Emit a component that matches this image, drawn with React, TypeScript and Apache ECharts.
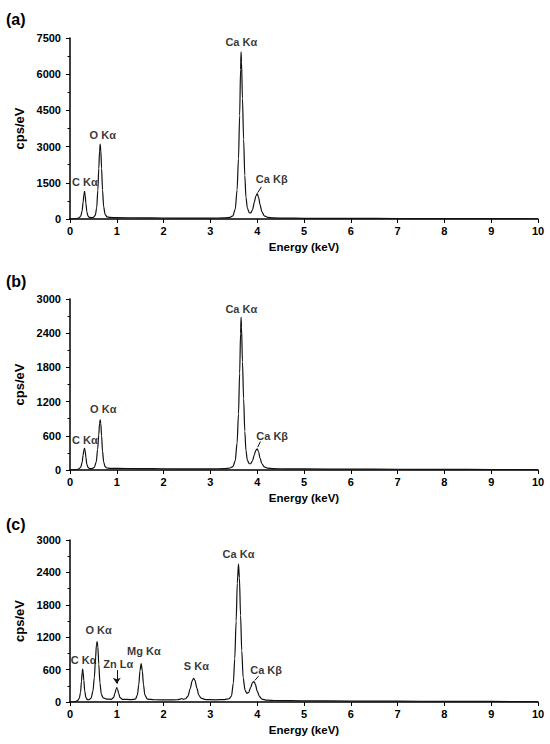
import React, { useEffect, useRef } from "react";
import * as echarts from "echarts";

// ---- Data (energy keV, cps/eV) ----
const spectrumA: number[][] = [
  [0, 0], [0.08, 2], [0.14, 15], [0.19, 45], [0.23, 120], [0.26, 350], [0.28, 700], [0.297, 1000], [0.31, 1150],
  [0.323, 1000], [0.34, 650], [0.36, 300], [0.385, 120], [0.42, 65], [0.46, 55], [0.5, 70], [0.54, 150],
  [0.57, 450], [0.595, 1200], [0.615, 2100], [0.632, 2800], [0.645, 3100], [0.658, 2850], [0.675, 2100],
  [0.695, 1200], [0.72, 500], [0.75, 190], [0.79, 90], [0.85, 65], [1.0, 55], [1.5, 48], [2.0, 42], [2.5, 38],
  [3.0, 38], [3.3, 45], [3.42, 70], [3.48, 130], [3.53, 400], [3.57, 1200], [3.6, 2500], [3.625, 4300],
  [3.645, 6200], [3.655, 6930], [3.665, 6500], [3.685, 5000], [3.71, 3300], [3.735, 1800], [3.76, 900],
  [3.79, 450], [3.83, 260], [3.86, 250], [3.9, 380], [3.94, 700], [3.97, 950], [4.0, 1050], [4.03, 900],
  [4.06, 600], [4.1, 300], [4.15, 130], [4.22, 70], [4.35, 45], [4.6, 35], [5, 30], [6, 24], [7, 20], [8, 16],
  [9, 13], [10, 10],
];
const spectrumB: number[][] = [
  [0, 0], [0.08, 2], [0.14, 8], [0.19, 20], [0.23, 50], [0.26, 140], [0.28, 260], [0.297, 350], [0.31, 380],
  [0.323, 340], [0.34, 220], [0.36, 100], [0.385, 45], [0.42, 25], [0.47, 25], [0.52, 45], [0.56, 140],
  [0.59, 360], [0.615, 620], [0.632, 820], [0.645, 880], [0.658, 820], [0.675, 600], [0.695, 330], [0.72, 140],
  [0.75, 60], [0.79, 35], [0.85, 30], [1.0, 28], [1.5, 25], [2.0, 22], [2.5, 20], [3.0, 20], [3.3, 24],
  [3.42, 35], [3.48, 60], [3.53, 160], [3.57, 470], [3.6, 980], [3.625, 1700], [3.645, 2400], [3.655, 2680],
  [3.665, 2500], [3.685, 1900], [3.71, 1250], [3.735, 680], [3.76, 340], [3.79, 170], [3.83, 110], [3.86, 110],
  [3.9, 160], [3.94, 270], [3.97, 345], [4.0, 370], [4.03, 320], [4.06, 210], [4.1, 110], [4.15, 55],
  [4.22, 32], [4.35, 24], [4.6, 20], [5, 18], [6, 15], [7, 13], [8, 11], [9, 9], [10, 8],
];
const spectrumC: number[][] = [
  [0, 0], [0.07, 2], [0.12, 8], [0.16, 25], [0.2, 70], [0.225, 180], [0.245, 380], [0.26, 550], [0.27, 610],
  [0.28, 560], [0.295, 400], [0.315, 200], [0.34, 80], [0.37, 45], [0.41, 42], [0.45, 70], [0.49, 200],
  [0.52, 450], [0.545, 800], [0.565, 1060], [0.58, 1120], [0.595, 1020], [0.615, 700], [0.64, 350],
  [0.67, 140], [0.71, 75], [0.78, 55], [0.88, 50], [0.93, 80], [0.96, 160], [0.985, 240], [1.0, 265],
  [1.015, 240], [1.04, 160], [1.07, 80], [1.12, 50], [1.3, 45], [1.4, 55], [1.44, 130], [1.47, 320],
  [1.495, 580], [1.52, 710], [1.545, 580], [1.57, 320], [1.6, 130], [1.65, 55], [1.8, 42], [2.1, 40],
  [2.3, 42], [2.36, 55], [2.39, 65], [2.42, 50], [2.47, 60], [2.52, 110], [2.57, 250], [2.61, 390],
  [2.64, 440], [2.67, 400], [2.71, 260], [2.75, 130], [2.8, 70], [2.9, 45], [3.1, 40], [3.3, 45], [3.4, 60],
  [3.45, 110], [3.49, 350], [3.52, 800], [3.55, 1500], [3.575, 2200], [3.6, 2560], [3.62, 2300],
  [3.645, 1600], [3.67, 950], [3.7, 450], [3.74, 220], [3.78, 160], [3.82, 180], [3.86, 270], [3.9, 360],
  [3.93, 380], [3.96, 330], [4.0, 200], [4.05, 100], [4.1, 55], [4.2, 35], [4.4, 28], [5, 22], [6, 18],
  [7, 15], [8, 12], [9, 10], [10, 8],
];

// peak annotations: [x, y, text] (label centre)
const peaksA: [number, number, string][] = [
  [0.32, 1540, "C Kα"], [0.7, 3500, "O Kα"], [3.66, 7350, "Ca Kα"], [4.31, 1640, "Ca Kβ"],
];
const peaksB: [number, number, string][] = [
  [0.32, 530, "C Kα"], [0.71, 1070, "O Kα"], [3.66, 2830, "Ca Kα"], [4.32, 600, "Ca Kβ"],
];
const peaksC: [number, number, string][] = [
  [0.29, 780, "C Kα"], [0.61, 1330, "O Kα"], [1.03, 700, "Zn Lα"], [1.58, 950, "Mg Kα"],
  [2.7, 670, "S Kα"], [3.6, 2735, "Ca Kα"], [4.19, 595, "Ca Kβ"],
];
// leader lines: [x1, y1, x2, y2]
const leaderA: number[][] = [[4.09, 1330, 4.01, 1090]];
const leaderB: number[][] = [[4.07, 500, 4.01, 400]];
const leaderC: number[][] = [[4.03, 480, 3.95, 400]];
const arrowC: number[][] = [[1.0, 590, 1.0, 340]];

const yMaxes = [7500, 3000, 3000];
const yIntervals = [1500, 600, 600];
const panelNames = ["(a)", "(b)", "(c)"];

const FONT = "'Liberation Sans', Arial, sans-serif";

export default function App() {
  const ref = useRef<HTMLDivElement>(null);
  useEffect(() => {
    if (!ref.current) return;
    const chart = echarts.init(ref.current, null, { renderer: "svg" });
    const grids = [
      { left: 70, top: 38, width: 468, height: 181 },
      { left: 70, top: 299, width: 468, height: 171 },
      { left: 70, top: 540, width: 468, height: 162 },
    ];
    const spectra = [spectrumA, spectrumB, spectrumC];
    const peaks = [peaksA, peaksB, peaksC];
    const leaders = [leaderA, leaderB, leaderC];
    const titleTops = [11, 273, 516];

    const xAxes = grids.map((_, i) => ({
      type: "value",
      gridIndex: i,
      min: 0,
      max: 10,
      interval: 1,
      axisLine: { show: true, lineStyle: { color: "#000", width: 1.5 } },
      axisTick: { show: true, inside: false, length: 4, lineStyle: { color: "#000", width: 1 } },
      splitLine: { show: false },
      axisLabel: { color: "#000", fontWeight: "bold", fontSize: 11, fontFamily: FONT, margin: 6 },
      name: "Energy (keV)",
      nameLocation: "middle",
      nameGap: 22,
      nameTextStyle: { color: "#000", fontWeight: "bold", fontSize: 11.5, fontFamily: FONT },
    }));
    const yAxes = grids.map((_, i) => ({
      type: "value",
      gridIndex: i,
      min: 0,
      max: yMaxes[i],
      interval: yIntervals[i],
      axisLine: { show: true, lineStyle: { color: "#000", width: 1.5 } },
      axisTick: { show: true, inside: false, length: 4, lineStyle: { color: "#000", width: 1 } },
      minorTick: { show: true, splitNumber: 2, length: 2.5, lineStyle: { color: "#000", width: 1 } },
      splitLine: { show: false },
      axisLabel: {
        color: "#000",
        fontWeight: "bold",
        fontSize: 11,
        fontFamily: FONT,
        margin: 9,
        formatter: (v: number) => String(v),
      },
      name: "cps/eV",
      nameLocation: "middle",
      nameGap: 40,
      nameTextStyle: { color: "#000", fontWeight: "bold", fontSize: 13, fontFamily: FONT },
    }));

    const series: any[] = [];
    spectra.forEach((s, i) => {
      const lineData: any[] = leaders[i].map((l) => [
        { coord: [l[0], l[1]] },
        { coord: [l[2], l[3]] },
      ]);
      if (i === 2) {
        arrowC.forEach((l) =>
          lineData.push([
            { coord: [l[0], l[1]], symbol: "none" },
            { coord: [l[2], l[3]], symbol: "arrow", symbolSize: 6 },
          ])
        );
      }
      series.push({
        type: "line",
        xAxisIndex: i,
        yAxisIndex: i,
        data: s,
        showSymbol: false,
        symbol: "none",
        smooth: 0.3,
        smoothMonotone: "x",
        lineStyle: { color: "#111", width: 1.2 },
        silent: true,
        markLine: {
          silent: true,
          symbol: ["none", "none"],
          label: { show: false },
          lineStyle: { color: "#111", width: 1, type: "solid" },
          data: lineData,
        },
      });
      series.push({
        type: "scatter",
        xAxisIndex: i,
        yAxisIndex: i,
        symbolSize: 0.1,
        itemStyle: { color: "transparent" },
        silent: true,
        data: peaks[i].map((p) => ({ value: [p[0], p[1]], name: p[2] })),
        label: {
          show: true,
          position: "inside",
          formatter: "{b}",
          color: "#000",
          fontWeight: "bold",
          fontSize: 11,
          fontFamily: FONT,
        },
      });
    });

    chart.setOption({
      animation: false,
      backgroundColor: "#fff",
      title: panelNames.map((t, i) => ({
        text: t,
        left: 6,
        top: titleTops[i],
        padding: 0,
        textStyle: { color: "#000", fontWeight: "bold", fontSize: 16, fontFamily: FONT },
      })),
      grid: grids,
      xAxis: xAxes,
      yAxis: yAxes,
      series,
    });
    return () => chart.dispose();
  }, []);
  return (
    <div
      ref={ref}
      style={{ position: "fixed", left: 0, top: 0, width: 550, height: 744, background: "#fff" }}
    />
  );
}
